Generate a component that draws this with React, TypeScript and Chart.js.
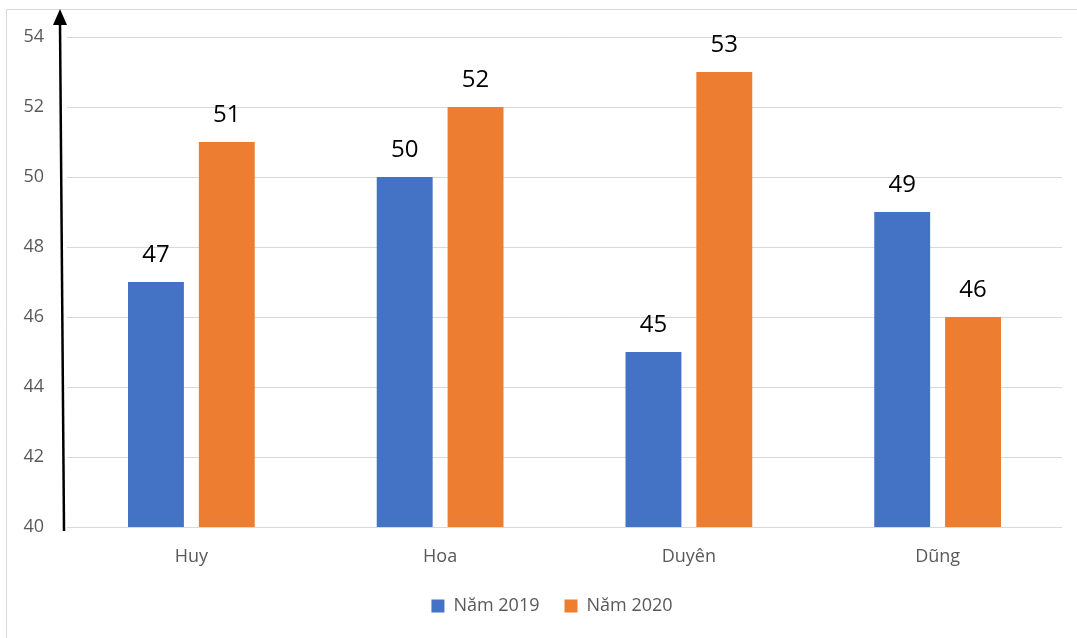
import { useEffect, useRef } from 'react';
import { Chart, registerables } from 'chart.js';

Chart.register(...registerables);

const categories = ['Huy', 'Hoa', 'Duyên', 'Dũng'];
const seriesNames = ['Năm 2019', 'Năm 2020'];
const values2019 = [47, 50, 45, 49];
const values2020 = [51, 52, 53, 46];
const yMin = 40;
const yMax = 54;
const yStep = 2;

const FONT = '"Open Sans", "Noto Sans", sans-serif';

const decorPlugin = {
  id: 'decor',
  afterLayout(chart: any) {
    if (chart.legend) {
      chart.legend.left += 42;
      if (chart.legend.adjustHitBoxes) chart.legend.adjustHitBoxes();
    }
  },
  beforeDraw(chart: any) {
    const ctx = chart.ctx;
    ctx.save();
    ctx.strokeStyle = '#d9d9d9';
    ctx.lineWidth = 1;
    ctx.beginPath();
    ctx.moveTo(6.5, chart.height);
    ctx.lineTo(6.5, 9.5);
    ctx.lineTo(chart.width, 9.5);
    ctx.stroke();
    ctx.restore();
  },
  afterDatasetsDraw(chart: any) {
    const ctx = chart.ctx;
    const area = chart.chartArea;
    ctx.save();
    // value labels
    ctx.font = `24px ${FONT}`;
    ctx.fillStyle = '#000000';
    ctx.textAlign = 'center';
    ctx.textBaseline = 'middle';
    chart.data.datasets.forEach((ds: any, i: number) => {
      const meta = chart.getDatasetMeta(i);
      meta.data.forEach((bar: any, j: number) => {
        ctx.fillText(String(ds.data[j]), bar.x, bar.y - 27);
      });
    });
    // axis arrow
    const bx = area.left - 3;
    const by = area.bottom + 4;
    const tx = area.left - 7;
    const tipY = area.top - 28;
    ctx.strokeStyle = '#000000';
    ctx.lineWidth = 2.5;
    ctx.beginPath();
    ctx.moveTo(bx, by);
    ctx.lineTo(tx, tipY + 14);
    ctx.stroke();
    ctx.fillStyle = '#000000';
    ctx.beginPath();
    ctx.moveTo(tx, tipY);
    ctx.lineTo(tx - 7, tipY + 16);
    ctx.lineTo(tx + 7, tipY + 16);
    ctx.closePath();
    ctx.fill();
    ctx.restore();
  },
};

export default function App() {
  const ref = useRef<HTMLCanvasElement | null>(null);

  useEffect(() => {
    if (!ref.current) return;
    const chart = new Chart(ref.current, {
      type: 'bar',
      data: {
        labels: categories,
        datasets: [
          {
            label: seriesNames[0],
            data: values2019,
            backgroundColor: '#4472C4',
            borderWidth: 0,
            categoryPercentage: 0.5697,
            barPercentage: 0.789,
          },
          {
            label: seriesNames[1],
            data: values2020,
            backgroundColor: '#ED7D31',
            borderWidth: 0,
            categoryPercentage: 0.5697,
            barPercentage: 0.789,
          },
        ],
      },
      options: {
        responsive: true,
        maintainAspectRatio: false,
        animation: false,
        layout: { padding: { left: 0, right: 15, top: 37, bottom: 13 } },
        scales: {
          x: {
            grid: { display: false, drawTicks: false },
            border: { display: false },
            ticks: { color: '#595959', font: { family: FONT, size: 18 }, padding: 19 },
            afterFit: (s: any) => { s.height = 45; },
          },
          y: {
            min: yMin,
            max: yMax,
            ticks: { stepSize: yStep, color: '#595959', font: { family: FONT, size: 18 }, padding: 23 },
            grid: { color: '#d9d9d9', lineWidth: 1, drawTicks: false },
            border: { display: false },
            afterFit: (s: any) => { s.width = 67; },
          },
        },
        plugins: {
          legend: {
            position: 'bottom',
            labels: {
              boxWidth: 13,
              boxHeight: 13,
              padding: 25,
              color: '#595959',
              font: { family: FONT, size: 18 },
            },
          },
          tooltip: { enabled: false },
        },
      },
      plugins: [decorPlugin],
    } as any);
    return () => chart.destroy();
  }, []);

  return (
    <div style={{ position: 'absolute', left: 0, top: 0, width: 1077, height: 638, background: '#ffffff' }}>
      <canvas ref={ref} />
    </div>
  );
}
